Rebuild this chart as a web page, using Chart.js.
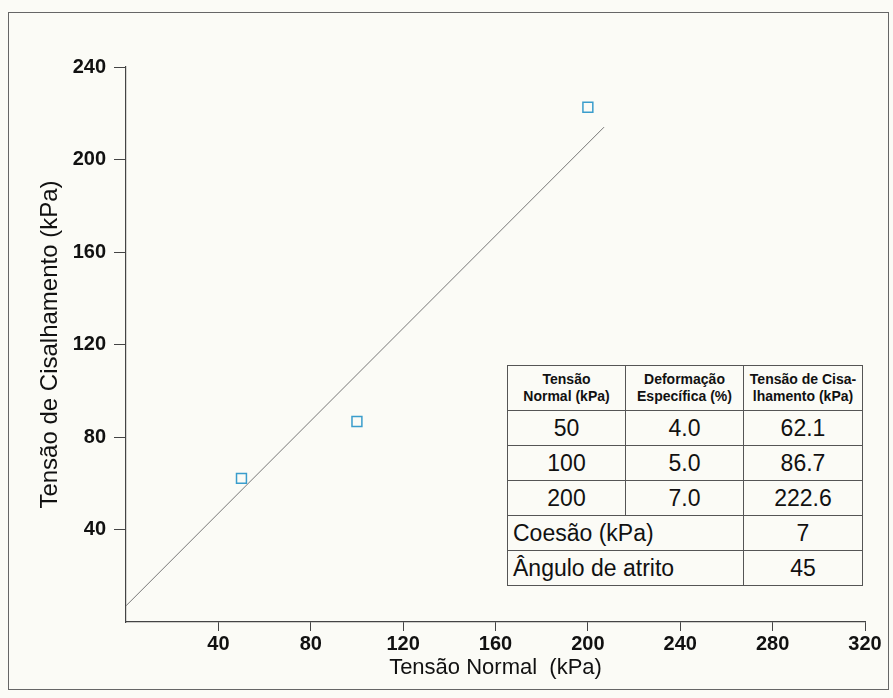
<!DOCTYPE html>
<html>
<head>
<meta charset="utf-8">
<script src="https://cdn.jsdelivr.net/npm/chart.js@4"></script>
<style>
  html, body { margin:0; padding:0; background:#fbfbf6; }
  #wrap { position:relative; width:893px; height:698px; }
  #frame { position:absolute; left:8px; top:12px; width:881px; height:678px; border:1.5px solid #666; box-sizing:border-box; pointer-events:none; }
  #tbl { position:absolute; left:507px; top:365px; border-collapse:collapse; font-family:'Liberation Sans', Arial, sans-serif; color:#111; background:#fbfbf6; }
  #tbl td { border:1px solid #555; padding:0; text-align:center; font-size:23px; height:34px; }
  #tbl tr.head td { font-size:14px; font-weight:bold; height:44px; line-height:17px; }
  #tbl td.left { text-align:left; padding-left:5px; }
</style>
</head>
<body>
<div id="wrap">
  <canvas id="chart" width="893" height="698"></canvas>
  <table id="tbl"></table>
  <div id="frame"></div>
</div>
<script>
// ── Data ─────────────────────────────────────────────────
const normalStress = [50, 100, 200];        // kPa
const shearStress  = [62.1, 86.7, 222.6];   // kPa
const strainPct    = ['4.0', '5.0', '7.0'];
const fitX = [0, 207];
const fitY = [7, 214];
const cohesion = 7;
const frictionAngle = 45;
const xTickStep = 40, xMax = 320;
const yTickStep = 40, yMax = 240;

// ── Table overlay ────────────────────────────────────────
const tbl = document.getElementById('tbl');
tbl.innerHTML = `
  <tr class="head">
    <td style="width:117px">Tensão<br>Normal (kPa)</td>
    <td style="width:117px">Deformação<br>Específica (%)</td>
    <td style="width:118px">Tensão de Cisa-<br>lhamento (kPa)</td>
  </tr>
  ${normalStress.map((s, i) => `
    <tr><td>${s}</td><td>${strainPct[i]}</td><td>${shearStress[i]}</td></tr>
  `).join('')}
  <tr><td colspan="2" class="left">Coesão (kPa)</td><td>${cohesion}</td></tr>
  <tr><td colspan="2" class="left">Ângulo de atrito</td><td>${frictionAngle}</td></tr>
`;

// ── Chart ────────────────────────────────────────────────
const tickFont = { family: "'Liberation Sans', Arial", size: 20, weight: 'bold' };

new Chart(document.getElementById('chart'), {
  type: 'scatter',
  data: {
    datasets: [
      {
        data: fitX.map((x, i) => ({ x, y: fitY[i] })),
        showLine: true,
        borderColor: '#777',
        borderWidth: 1,
        pointRadius: 0,
      },
      {
        data: normalStress.map((x, i) => ({ x, y: shearStress[i] })),
        pointStyle: 'rect',
        pointRadius: 7,
        borderColor: '#3a9dcc',
        backgroundColor: 'transparent',
        borderWidth: 1.5,
      }
    ]
  },
  options: {
    responsive: false,
    animation: false,
    layout: { padding: { left: 36, top: 67, right: 28, bottom: 17 } },
    plugins: { legend: { display: false }, tooltip: { enabled: false } },
    scales: {
      x: {
        type: 'linear', min: 0, max: xMax,
        afterFit: s => { s.height = 59; },
        border: { display: true, color: '#444', width: 1.2 },
        grid: { drawOnChartArea: false, drawTicks: true, tickLength: 9, color: c => c.tick && c.tick.value === 0 ? 'transparent' : '#444' },
        ticks: { stepSize: xTickStep, padding: 1, color: '#111', font: tickFont, callback: v => v === 0 ? '' : v },
        title: { display: true, text: 'Tensão Normal  (kPa)', color: '#111', font: { family: "'Liberation Sans', Arial", size: 22 }, padding: 0 }
      },
      y: {
        type: 'linear', min: 0, max: yMax,
        afterFit: s => { s.width = 90; },
        border: { display: true, color: '#444', width: 1.2 },
        grid: { drawOnChartArea: false, drawTicks: true, tickLength: 12, color: c => c.tick && c.tick.value === 0 ? 'transparent' : '#444' },
        ticks: { stepSize: yTickStep, padding: 8, color: '#111', font: tickFont, callback: v => v === 0 ? '' : v },
        title: { display: true, text: 'Tensão de Cisalhamento (kPa)', color: '#111', font: { family: "'Liberation Sans', Arial", size: 24 }, padding: 0 }
      }
    }
  }
});
</script>
</body>
</html>
